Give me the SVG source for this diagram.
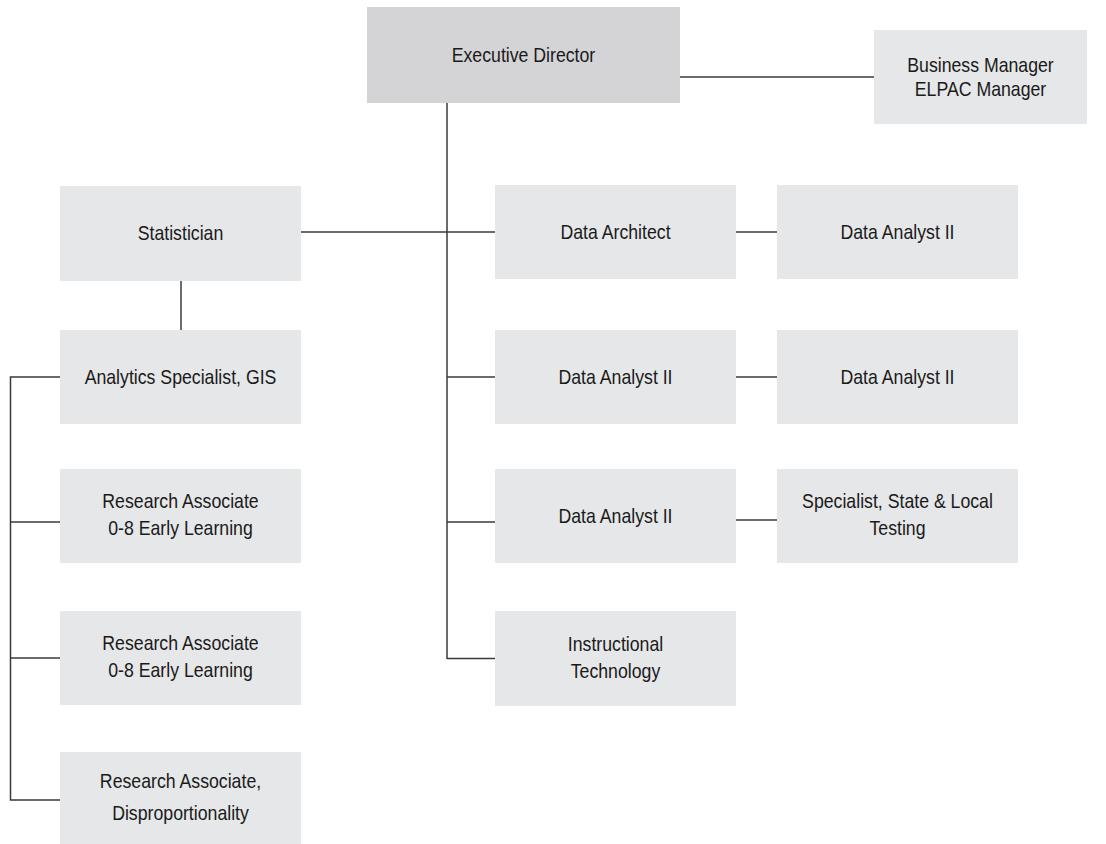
<svg xmlns="http://www.w3.org/2000/svg" width="1106" height="844" viewBox="0 0 1106 844">
<style>
.box{fill:#e6e7e8}
.top{fill:#d4d4d6}
.t{font-family:"Liberation Sans",Arial,sans-serif;font-size:20px;fill:#1a1a1a;text-anchor:middle}
.c{stroke:#3a3a3a;stroke-width:1.5;fill:none}
</style>
<rect width="1106" height="844" fill="#ffffff"/>
<g id="connectors">
<line class="c" x1="680" y1="77" x2="874" y2="77"/>
<line class="c" x1="447" y1="103" x2="447" y2="659"/>
<line class="c" x1="301" y1="232" x2="495" y2="232"/>
<line class="c" x1="447" y1="377" x2="495" y2="377"/>
<line class="c" x1="447" y1="522" x2="495" y2="522"/>
<line class="c" x1="447" y1="658.5" x2="495" y2="658.5"/>
<line class="c" x1="736" y1="232" x2="777" y2="232"/>
<line class="c" x1="736" y1="377" x2="777" y2="377"/>
<line class="c" x1="736" y1="520" x2="777" y2="520"/>
<line class="c" x1="181" y1="281" x2="181" y2="330"/>
<polyline class="c" points="60,377 10.5,377 10.5,800 60,800"/>
<line class="c" x1="10.5" y1="522" x2="60" y2="522"/>
<line class="c" x1="10.5" y1="658" x2="60" y2="658"/>
</g>
<g id="exec"><rect class="top" x="367" y="7" width="313" height="96"/><text class="t" transform="translate(523.5 62) scale(0.885 1)">Executive Director</text></g>
<g id="business"><rect class="box" x="874" y="30" width="213" height="94"/><text class="t" transform="translate(980.5 72) scale(0.885 1)"><tspan x="0">Business Manager</tspan><tspan x="0" dy="24">ELPAC Manager</tspan></text></g>
<g id="statistician"><rect class="box" x="60" y="186" width="241" height="95"/><text class="t" transform="translate(180.5 240) scale(0.885 1)">Statistician</text></g>
<g id="analytics"><rect class="box" x="60" y="330" width="241" height="94"/><text class="t" transform="translate(180.5 384) scale(0.885 1)">Analytics Specialist, GIS</text></g>
<g id="ra1"><rect class="box" x="60" y="469" width="241" height="94"/><text class="t" transform="translate(180.5 508) scale(0.885 1)"><tspan x="0">Research Associate</tspan><tspan x="0" dy="27">0-8 Early Learning</tspan></text></g>
<g id="ra2"><rect class="box" x="60" y="611" width="241" height="94"/><text class="t" transform="translate(180.5 650) scale(0.885 1)"><tspan x="0">Research Associate</tspan><tspan x="0" dy="27">0-8 Early Learning</tspan></text></g>
<g id="ra3"><rect class="box" x="60" y="752" width="241" height="94"/><text class="t" transform="translate(180.5 788) scale(0.885 1)"><tspan x="0">Research Associate,</tspan><tspan x="0" dy="32">Disproportionality</tspan></text></g>
<g id="architect"><rect class="box" x="495" y="185" width="241" height="94"/><text class="t" transform="translate(615.5 239) scale(0.885 1)">Data Architect</text></g>
<g id="da1"><rect class="box" x="495" y="330" width="241" height="94"/><text class="t" transform="translate(615.5 384) scale(0.885 1)">Data Analyst II</text></g>
<g id="da2"><rect class="box" x="495" y="469" width="241" height="94"/><text class="t" transform="translate(615.5 523) scale(0.885 1)">Data Analyst II</text></g>
<g id="instructional"><rect class="box" x="495" y="611" width="241" height="95"/><text class="t" transform="translate(615.5 651) scale(0.885 1)"><tspan x="0">Instructional</tspan><tspan x="0" dy="27">Technology</tspan></text></g>
<g id="da3"><rect class="box" x="777" y="185" width="241" height="94"/><text class="t" transform="translate(897.5 239) scale(0.885 1)">Data Analyst II</text></g>
<g id="da4"><rect class="box" x="777" y="330" width="241" height="94"/><text class="t" transform="translate(897.5 384) scale(0.885 1)">Data Analyst II</text></g>
<g id="specialist"><rect class="box" x="777" y="469" width="241" height="94"/><text class="t" transform="translate(897.5 508) scale(0.885 1)"><tspan x="0">Specialist, State &amp; Local</tspan><tspan x="0" dy="27">Testing</tspan></text></g>
</svg>
